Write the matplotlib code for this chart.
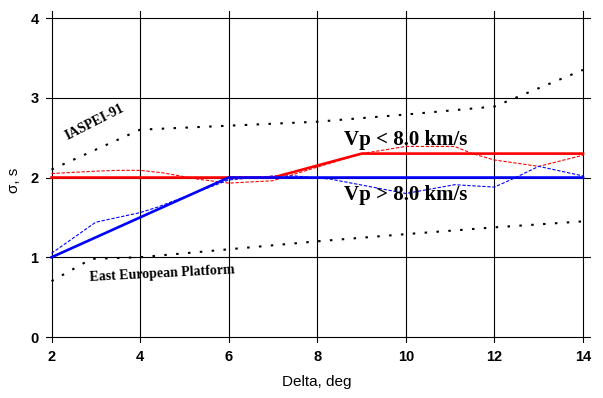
import matplotlib.pyplot as plt

# IASPEI-91 and East European Platform reference curves
iasp_x = [2, 4, 6, 8, 10, 12, 14]
iasp_y = [2.1, 2.6, 2.65, 2.7, 2.79, 2.89, 3.35]
eep_x = [2, 2.9, 4, 6, 8, 10, 12, 14]
eep_y = [0.7, 0.98, 1.0, 1.1, 1.2, 1.29, 1.375, 1.45]

# Vp < 8.0 km/s: model (solid) and observed (dashed)
red_x = [2, 7, 9, 14]
red_y = [2.0, 2.0, 2.3, 2.3]
red_obs_x = [2, 3, 3.5, 4, 4.5, 5, 5.3, 6, 7, 8, 9, 10, 11.1, 11.5, 12, 13, 14]
red_obs_y = [2.05, 2.08, 2.09, 2.09, 2.06, 2.01, 1.98, 1.93, 1.96, 2.13, 2.3, 2.39, 2.39, 2.3, 2.22, 2.14, 2.28]

# Vp > 8.0 km/s
blue_x = [2, 6, 14]
blue_y = [1.0, 2.0, 2.0]
blue_obs_x = [2, 3, 4, 4.4, 6, 7, 7.5, 8.3, 10, 11.1, 12, 12.4, 13, 14]
blue_obs_y = [1.05, 1.44, 1.56, 1.63, 1.97, 2.02, 2.02, 1.98, 1.8, 1.91, 1.88, 1.98, 2.14, 2.02]

xticks = [2, 4, 6, 8, 10, 12, 14]
yticks = [0, 1, 2, 3, 4]

fig = plt.figure(figsize=(6.03, 3.98), dpi=100)
ax = fig.add_axes([0.0755, 0.1382, 0.9046, 0.834])

ax.plot(iasp_x, iasp_y, color='black', lw=1.5, linestyle=(0, (1.2, 4.5)))
ax.plot(eep_x, eep_y, color='black', lw=1.5, linestyle=(0, (1.2, 4.5)))
ax.plot(red_obs_x, red_obs_y, color='red', lw=0.8, linestyle=(0, (3, 1.5)))
ax.plot(blue_obs_x, blue_obs_y, color='blue', lw=0.8, linestyle=(0, (3, 1.5)))
ax.plot(red_x, red_y, color='red', lw=1.9)
ax.plot(blue_x, blue_y, color='blue', lw=1.9)

ax.set_xlim(2 - 6 / 44.3, 14 + 8 / 44.3)
ax.set_ylim(-6 / 80, 4 + 7 / 80)
ax.set_xticks(xticks)
ax.set_yticks(yticks)
ax.tick_params(length=0, pad=5, labelsize=10.5)
for lab in ax.get_xticklabels() + ax.get_yticklabels():
    lab.set_fontfamily('Liberation Sans')
    lab.set_fontweight('bold')
ax.grid(True, color='black', lw=0.8)
ax.set_axisbelow(True)
for s in ax.spines.values():
    s.set_visible(False)

serif = dict(family='Liberation Serif', weight='bold', color='black')
ax.text(10.0, 2.47, 'Vp < 8.0 km/s', fontsize=15, ha='center', va='center', **serif)
ax.text(10.0, 1.78, 'Vp > 8.0 km/s', fontsize=15, ha='center', va='center', **serif)
ax.text(2.98, 2.69, 'IASPEI-91', fontsize=10, rotation=27, ha='center', va='center', **serif)
ax.text(4.49, 0.79, 'East European Platform', fontsize=10, rotation=3, ha='center', va='center', **serif)

fig.text(317 / 603, 1 - 382 / 398, 'Delta, deg', fontsize=11, family='Liberation Sans', ha='center', va='center')
fig.text(14 / 603, 1 - 180 / 398, 'σ, s', fontsize=11, family='Liberation Sans', rotation=90, ha='center', va='center')

fig.savefig('out.png', dpi=100)
